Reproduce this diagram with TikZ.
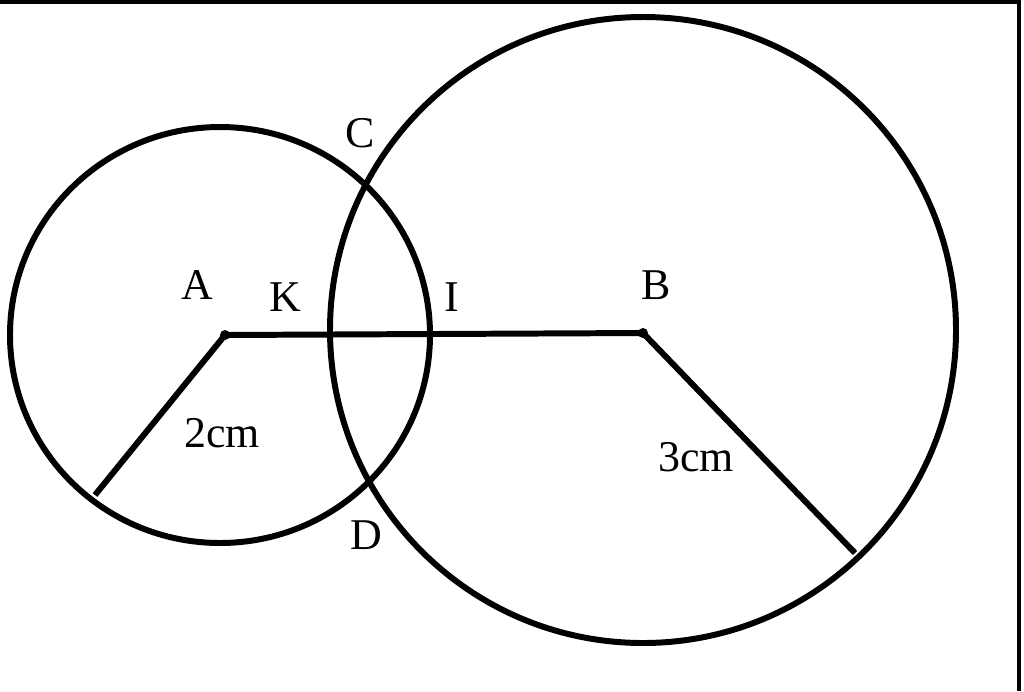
\documentclass[tikz,border=0pt]{standalone}
\usepackage{fontspec}
\setmainfont{Liberation Serif}
\begin{document}
\begin{tikzpicture}[x=0.02cm,y=-0.02cm,line width=3.4pt,
  lab/.style={font=\fontsize{25}{30}\selectfont}]
\useasboundingbox (0,0) rectangle (1024,691);
\draw[line width=2.5pt] (0,2) -- (1019,2) -- (1019,691);
\coordinate (A) at (225,335);
\coordinate (B) at (643,333);
\coordinate (P) at (95,495);
\coordinate (Q) at (855,553);
\draw (220,335) ellipse [x radius=210, y radius=208];
\draw (643,330) circle [radius=313];
\draw (A) -- (B);
\draw (A) -- (P);
\draw (B) -- (Q);
\fill (A) circle [radius=5];
\fill (B) circle [radius=5];
\node[lab] (la) at (197,285) {A};
\node[lab] (lk) at (285,297) {K};
\node[lab] (li) at (452,297) {I};
\node[lab] (lb) at (656,285) {B};
\node[lab] (lc) at (360,133) {C};
\node[lab] (ld) at (366,535) {D};
\node[lab] (l2) at (222,433) {2cm};
\node[lab] (l3) at (696,457) {3cm};
\end{tikzpicture}
\end{document}
